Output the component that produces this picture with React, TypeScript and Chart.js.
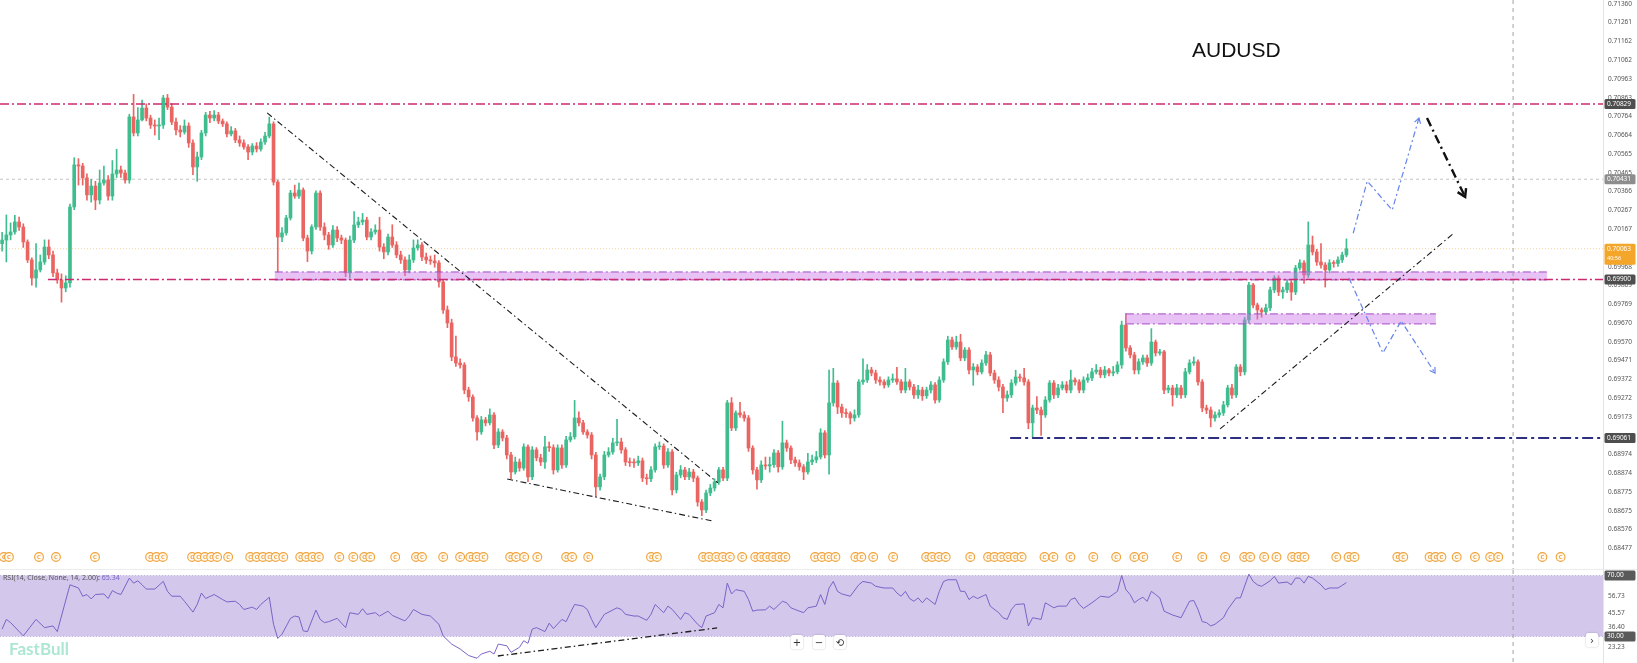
import { useEffect, useRef } from 'react';
import { Chart, registerables } from 'chart.js';

Chart.register(...registerables);

// AUDUSD candles, oldest first; each candle opens at the previous close
const FIRST_OPEN = 0.7009;
const CLOSE = [
  0.70109, 0.70136, 0.70152, 0.70205, 0.70178, 0.70099, 0.70004, 0.69908, 0.69951, 0.69993,
  0.70072, 0.7003, 0.69935, 0.69898, 0.69855, 0.69882, 0.70284, 0.70507, 0.70501, 0.70438,
  0.70348, 0.70395, 0.70321, 0.70411, 0.70427, 0.70342, 0.70459, 0.7048, 0.70464, 0.70427,
  0.70761, 0.70676, 0.70745, 0.70808, 0.70755, 0.70718, 0.70713, 0.70718, 0.70861, 0.70813,
  0.70734, 0.70692, 0.70681, 0.70713, 0.70623, 0.70496, 0.70549, 0.70676, 0.70771, 0.70755,
  0.70771, 0.70739, 0.70724, 0.70671, 0.70687, 0.70639, 0.70623, 0.70602, 0.70575, 0.70607,
  0.70591, 0.70628, 0.7066, 0.70724, 0.70416, 0.70125, 0.70147, 0.70226, 0.70358, 0.70342,
  0.70374, 0.7012, 0.70051, 0.70178, 0.70358, 0.70178, 0.70136, 0.70083, 0.70162, 0.7012,
  0.70109, 0.69935, 0.70109, 0.70189, 0.70205, 0.70215, 0.70125, 0.70152, 0.70162, 0.70072,
  0.70046, 0.70125, 0.70083, 0.7003, 0.70004, 0.69951, 0.70004, 0.70067, 0.70083, 0.70019,
  0.70004, 0.69998, 0.69988, 0.69887, 0.69739, 0.6967, 0.6949, 0.69458, 0.69448, 0.69315,
  0.69278, 0.69167, 0.69093, 0.69157, 0.69141, 0.69183, 0.69024, 0.69093, 0.69061, 0.68971,
  0.68881, 0.68934, 0.68902, 0.69014, 0.68855, 0.68998, 0.68956, 0.68934, 0.69014, 0.6901,
  0.68892, 0.69008, 0.68918, 0.69051, 0.69067, 0.69167, 0.69141, 0.69093, 0.69077, 0.68971,
  0.68802, 0.68855, 0.68971, 0.68987, 0.69035, 0.6904, 0.68998, 0.68934, 0.6893, 0.68929,
  0.6894, 0.68849, 0.68845, 0.68892, 0.69014, 0.69018, 0.68918, 0.68987, 0.68786, 0.68865,
  0.68892, 0.68855, 0.68881, 0.68849, 0.68722, 0.6868, 0.6877, 0.68796, 0.68828, 0.68892,
  0.68849, 0.69247, 0.69114, 0.69194, 0.69183, 0.69167, 0.69008, 0.68892, 0.68839, 0.68918,
  0.68913, 0.6892, 0.68982, 0.68908, 0.69035, 0.69008, 0.68945, 0.68929, 0.68908, 0.68881,
  0.68934, 0.68945, 0.68961, 0.69088, 0.68971, 0.69247, 0.69352, 0.69225, 0.69194, 0.6919,
  0.69167, 0.69183, 0.69358, 0.69368, 0.69421, 0.69405, 0.69368, 0.69358, 0.69342, 0.69368,
  0.69374, 0.69358, 0.69315, 0.69358, 0.69331, 0.69289, 0.69315, 0.69284, 0.69315, 0.69342,
  0.69262, 0.69368, 0.69464, 0.6958, 0.69543, 0.69569, 0.69485, 0.69527, 0.69421, 0.69437,
  0.69411, 0.69458, 0.69501, 0.69405, 0.69368, 0.69331, 0.69273, 0.69289, 0.69352, 0.69384,
  0.69379, 0.69358, 0.69141, 0.6922, 0.69209, 0.69183, 0.69262, 0.69352, 0.69289, 0.69326,
  0.69342, 0.69315, 0.69368, 0.69358, 0.69315, 0.69368, 0.69379, 0.69411, 0.69421, 0.69395,
  0.69421, 0.69405, 0.69411, 0.69448, 0.69659, 0.69538, 0.69501, 0.69421, 0.69464, 0.69485,
  0.69458, 0.69569, 0.69511, 0.69517, 0.69315, 0.69326, 0.69289, 0.69326, 0.69289, 0.69411,
  0.69458, 0.69464, 0.69358, 0.6922, 0.69209, 0.69167, 0.69183, 0.69194, 0.69236, 0.69326,
  0.69289, 0.69437, 0.69411, 0.69686, 0.69871, 0.69765, 0.69739, 0.69728, 0.6975, 0.69845,
  0.69908, 0.69834, 0.69845, 0.69882, 0.69834, 0.69961, 0.69988, 0.69924, 0.70083, 0.70046,
  0.69993, 0.69977, 0.69951, 0.69988, 0.69985, 0.70004, 0.7003, 0.70063,
];
const HIGH = [
  0.7015, 0.70242, 0.702, 0.7024, 0.7023, 0.70195, 0.7011, 0.70015, 0.7009, 0.7003,
  0.7011, 0.7011, 0.7005, 0.69955, 0.6993, 0.6992, 0.703, 0.70545, 0.7054, 0.70515,
  0.7046, 0.7043, 0.7042, 0.7048, 0.705, 0.7045, 0.7053, 0.7059, 0.705, 0.7048,
  0.70775, 0.7088, 0.7081, 0.7085, 0.7083, 0.7077, 0.70745, 0.70755, 0.70875, 0.7088,
  0.7083, 0.70755, 0.70715, 0.70745, 0.7073, 0.7064, 0.70575, 0.7069, 0.70785, 0.7079,
  0.70795, 0.70785, 0.7075, 0.70735, 0.7071, 0.707, 0.7066, 0.7064, 0.70615, 0.7062,
  0.70625, 0.70645, 0.7068, 0.7076, 0.70735, 0.70425, 0.70175, 0.7024, 0.70372, 0.704,
  0.7041, 0.70385, 0.70135, 0.7019, 0.7037, 0.7037, 0.702, 0.7015, 0.70185, 0.7018,
  0.70135, 0.7012, 0.7013, 0.7026, 0.7023, 0.7025, 0.7023, 0.7017, 0.7019, 0.7023,
  0.7009, 0.7014, 0.7019, 0.701, 0.7005, 0.7002, 0.7003, 0.7011, 0.7011, 0.70095,
  0.7004, 0.70025, 0.7003, 0.7, 0.699, 0.6976, 0.6969, 0.696, 0.6948, 0.6946,
  0.6933, 0.6929, 0.6918, 0.69175, 0.6917, 0.69215, 0.69195, 0.6911, 0.69105, 0.69075,
  0.68985, 0.6896, 0.6895, 0.6903, 0.69025, 0.69015, 0.6901, 0.68975, 0.6907, 0.6904,
  0.69025, 0.69025, 0.69025, 0.6907, 0.6909, 0.6926, 0.692, 0.69155, 0.69105, 0.6909,
  0.68985, 0.6887, 0.6899, 0.6901, 0.6906, 0.6916, 0.6906, 0.6901, 0.68955, 0.6895,
  0.68965, 0.68955, 0.6887, 0.6891, 0.6903, 0.6904, 0.6903, 0.69005, 0.69, 0.6888,
  0.68915, 0.68905, 0.689, 0.68895, 0.6886, 0.68735, 0.68785, 0.68815, 0.68845, 0.68905,
  0.68905, 0.6926, 0.69275, 0.69205, 0.6925, 0.692, 0.6918, 0.6902, 0.68905, 0.6894,
  0.6896, 0.6896, 0.69, 0.68995, 0.6915, 0.6905, 0.6902, 0.6896, 0.68945, 0.6892,
  0.6898, 0.6897, 0.6899, 0.6911, 0.691, 0.6942, 0.6943, 0.69365, 0.6924, 0.69215,
  0.692, 0.6921, 0.6937, 0.6948, 0.6945, 0.69435, 0.6942, 0.69385, 0.6937, 0.69385,
  0.694, 0.69435, 0.6937, 0.6943, 0.6937, 0.69345, 0.6934, 0.6933, 0.6933, 0.6936,
  0.69355, 0.69385, 0.6948, 0.696, 0.69595, 0.696, 0.6961, 0.6954, 0.6954, 0.69455,
  0.6945, 0.69475, 0.6952, 0.69515, 0.6942, 0.69385, 0.69345, 0.6931, 0.6937, 0.6942,
  0.694, 0.6943, 0.6937, 0.69235, 0.6928, 0.69225, 0.6928, 0.69365, 0.69365, 0.69345,
  0.6936, 0.6936, 0.6942, 0.6938, 0.6937, 0.69385, 0.694, 0.6943, 0.6945, 0.69435,
  0.6944, 0.6943, 0.6944, 0.69465, 0.6968, 0.6972, 0.6955, 0.69515, 0.6948, 0.695,
  0.695, 0.6964, 0.6958, 0.6953, 0.69525, 0.6934, 0.6934, 0.69345, 0.6934, 0.6943,
  0.69475, 0.6949, 0.69475, 0.6937, 0.69235, 0.69225, 0.692, 0.6921, 0.69255, 0.6934,
  0.69345, 0.6945, 0.6945, 0.697, 0.69885, 0.6988, 0.69775, 0.6975, 0.6977, 0.6986,
  0.6992, 0.6992, 0.6986, 0.69895, 0.69895, 0.69975, 0.70005, 0.7, 0.70205, 0.7013,
  0.7006, 0.7009, 0.6999, 0.70005, 0.7, 0.7002, 0.70045, 0.70115,
];
const LOW = [
  0.7005, 0.69993, 0.7011, 0.7014, 0.7016, 0.7007, 0.6999, 0.6987, 0.6986, 0.6994,
  0.6998, 0.7001, 0.69915, 0.6988, 0.6978, 0.69835, 0.6986, 0.7027, 0.704, 0.704,
  0.7032, 0.7031, 0.7027, 0.703, 0.704, 0.7032, 0.7032, 0.7044, 0.7044, 0.7041,
  0.7041, 0.7066, 0.7066, 0.7074, 0.7074, 0.707, 0.70665, 0.7064, 0.707, 0.708,
  0.7072, 0.70665, 0.70655, 0.7067, 0.706, 0.70455, 0.7042, 0.70535, 0.7066, 0.7073,
  0.7074, 0.70725, 0.7071, 0.70655, 0.7066, 0.70625, 0.70605, 0.7059, 0.70535, 0.7056,
  0.70575, 0.7058, 0.70615, 0.7065, 0.704, 0.6994, 0.701, 0.70135, 0.70215, 0.7033,
  0.7033, 0.70105, 0.69995, 0.70035, 0.70165, 0.7016, 0.7011, 0.7006, 0.7007, 0.701,
  0.7009, 0.69915, 0.6991, 0.70095, 0.70175, 0.7019, 0.7011, 0.7011, 0.7014, 0.7005,
  0.7001, 0.7003, 0.7007, 0.70015, 0.69985, 0.6992, 0.69935, 0.6999, 0.70055, 0.7,
  0.69985, 0.6998, 0.69965, 0.6986, 0.6972, 0.69645, 0.6947, 0.6944, 0.6943, 0.69295,
  0.69255, 0.6915, 0.6905, 0.6908, 0.69125, 0.6913, 0.69005, 0.6901, 0.69045, 0.6895,
  0.68845, 0.6887, 0.68885, 0.6889, 0.6883, 0.6884, 0.6894, 0.68915, 0.689, 0.6899,
  0.6887, 0.6888, 0.689, 0.68905, 0.6904, 0.69055, 0.69125, 0.6908, 0.6906, 0.6895,
  0.6875, 0.68785, 0.6884, 0.6896, 0.68975, 0.6902, 0.6898, 0.68915, 0.6891, 0.68905,
  0.68915, 0.6883, 0.68815, 0.6883, 0.6888, 0.69, 0.689, 0.68905, 0.6876, 0.6877,
  0.6885, 0.6884, 0.6884, 0.6883, 0.687, 0.6865, 0.68665, 0.68755, 0.6878, 0.68815,
  0.68835, 0.68835, 0.691, 0.691, 0.6917, 0.6915, 0.6899, 0.6887, 0.6879, 0.68825,
  0.68895, 0.6888, 0.68905, 0.6888, 0.68895, 0.6899, 0.68925, 0.6891, 0.6889, 0.6884,
  0.6887, 0.6892, 0.6893, 0.6895, 0.68955, 0.6887, 0.6923, 0.6919, 0.6917, 0.6917,
  0.69135, 0.6915, 0.6917, 0.69345, 0.69355, 0.6939, 0.6935, 0.6934, 0.69325, 0.6933,
  0.69355, 0.69345, 0.693, 0.693, 0.69315, 0.6927, 0.6927, 0.6926, 0.6927, 0.693,
  0.69245, 0.6925, 0.69355, 0.6945, 0.6953, 0.6953, 0.6947, 0.6947, 0.694, 0.6934,
  0.69395, 0.694, 0.69445, 0.6939, 0.6935, 0.6931, 0.69195, 0.69255, 0.69275, 0.6934,
  0.6936, 0.6934, 0.6911, 0.6906, 0.6919, 0.69075, 0.6917, 0.6925, 0.6927, 0.69275,
  0.69315, 0.693, 0.693, 0.6934, 0.693, 0.693, 0.69355, 0.69365, 0.694, 0.6938,
  0.6938, 0.6939, 0.6939, 0.694, 0.6943, 0.6952, 0.69485, 0.694, 0.694, 0.6945,
  0.6944, 0.69445, 0.69495, 0.695, 0.69295, 0.693, 0.6923, 0.69275, 0.6927, 0.69275,
  0.694, 0.69445, 0.6934, 0.692, 0.6919, 0.6912, 0.6915, 0.6917, 0.6918, 0.69225,
  0.6927, 0.69275, 0.6939, 0.69395, 0.6967, 0.6975, 0.6969, 0.697, 0.69715, 0.69735,
  0.6983, 0.69815, 0.698, 0.6983, 0.6979, 0.6982, 0.6995, 0.6988, 0.6991, 0.7003,
  0.69975, 0.6996, 0.6986, 0.69935, 0.69965, 0.6997, 0.6999, 0.7002,
];

// RSI(14) in the lower pane: [candle index, value]
const RSI_POINTS = [
  [0, 34.8], [1, 41.2], [2, 39.1], [5, 30.4], [8, 41.2], [10, 35.8], [12, 36.9], [13, 33.2],
  [16, 63.9], [18, 61.8], [19, 56.4], [20, 57.5], [21, 54.6], [22, 57.5], [24, 57.9], [25, 54.9],
  [26, 60.1], [27, 58.5], [28, 57.5], [30, 68.3], [31, 65.0], [32, 66.5], [33, 63.9], [34, 61.1],
  [36, 61.1], [38, 66.1], [39, 59.6], [40, 56.4], [42, 56.4], [43, 53.1], [45, 46.0], [46, 51.0],
  [47, 58.5], [48, 54.9], [50, 57.5], [52, 54.2], [53, 52.7], [55, 53.1], [56, 51.0], [57, 47.7],
  [59, 49.2], [60, 47.7], [61, 51.0], [63, 55.7], [64, 38.0], [65, 28.7], [66, 31.5], [68, 41.9],
  [69, 43.4], [70, 42.8], [71, 33.7], [72, 33.2], [74, 47.3], [75, 41.2], [76, 39.1], [77, 39.7],
  [79, 41.9], [81, 35.8], [82, 45.6], [84, 44.5], [85, 48.2], [86, 44.5], [88, 45.6], [89, 43.4],
  [91, 46.6], [92, 43.8], [95, 40.2], [96, 43.4], [97, 47.7], [99, 44.5], [101, 43.4], [103, 38.0],
  [104, 30.4], [106, 25.0], [108, 21.8], [110, 17.5], [112, 15.7], [113, 18.5], [115, 20.3], [116, 18.5],
  [117, 25.0], [119, 23.9], [120, 19.6], [122, 22.9], [123, 27.2], [124, 25.5], [125, 34.8], [126, 35.8],
  [128, 33.2], [129, 38.7], [130, 35.2], [132, 41.2], [133, 39.7], [134, 45.6], [135, 51.0], [137, 49.9],
  [138, 47.7], [139, 41.2], [140, 35.8], [142, 44.5], [145, 48.8], [146, 47.7], [147, 44.5], [149, 43.4],
  [150, 43.4], [152, 40.6], [153, 44.5], [154, 51.0], [156, 45.6], [157, 49.9], [158, 47.8], [160, 41.2],
  [161, 45.6], [162, 44.5], [164, 38.0], [165, 35.8], [166, 43.4], [168, 45.6], [169, 51.0], [170, 48.8],
  [171, 65.0], [172, 57.9], [173, 60.7], [175, 59.6], [176, 54.2], [177, 46.6], [178, 47.3], [180, 47.5],
  [181, 49.9], [182, 47.7], [184, 53.1], [185, 52.1], [186, 48.8], [187, 47.7], [189, 45.6], [190, 48.8],
  [192, 49.9], [193, 57.5], [194, 51.0], [195, 61.8], [196, 66.1], [197, 59.6], [198, 57.9], [200, 56.4],
  [202, 63.9], [203, 66.1], [205, 65.0], [206, 62.9], [208, 61.8], [210, 61.8], [211, 58.5], [212, 56.4],
  [213, 59.6], [214, 54.9], [215, 53.1], [216, 55.3], [217, 52.1], [218, 55.3], [220, 51.0], [221, 59.6],
  [222, 66.1], [223, 67.2], [225, 67.2], [226, 59.6], [227, 59.6], [228, 54.2], [229, 56.4], [230, 54.9],
  [232, 57.5], [233, 49.9], [235, 45.6], [236, 42.3], [237, 41.2], [238, 47.7], [239, 51.0], [241, 51.4],
  [242, 36.9], [243, 42.3], [245, 41.2], [246, 52.1], [248, 48.8], [249, 49.9], [251, 49.9], [252, 54.2],
  [253, 55.3], [254, 51.0], [255, 48.4], [257, 52.1], [258, 54.2], [259, 56.4], [261, 55.7], [263, 59.6],
  [264, 70.0], [265, 60.7], [266, 57.5], [267, 52.1], [268, 54.2], [269, 55.7], [270, 53.1], [271, 59.6],
  [272, 57.5], [273, 55.3], [274, 46.6], [276, 44.1], [278, 42.3], [279, 47.7], [280, 53.1], [281, 53.6],
  [282, 47.7], [283, 39.7], [284, 39.1], [285, 36.9], [286, 38.0], [288, 42.3], [289, 47.7], [291, 55.3],
  [292, 55.3], [294, 70.9], [295, 66.1], [296, 63.9], [297, 62.9], [299, 66.5], [300, 69.4], [301, 65.0],
  [303, 65.7], [304, 63.9], [305, 68.3], [306, 68.3], [307, 65.0], [308, 69.4], [309, 68.3], [311, 63.9],
  [312, 60.7], [313, 61.8], [314, 61.8], [315, 61.8], [316, 63.5], [317, 65.34],
];

const PRICE_TICKS = [
  0.7136, 0.71261, 0.71162, 0.71062, 0.70963, 0.70863, 0.70764, 0.70664, 0.70565, 0.70465,
  0.70366, 0.70267, 0.70167, 0.70068, 0.69968, 0.69869, 0.69769, 0.6967, 0.6957, 0.69471,
  0.69372, 0.69272, 0.69173, 0.69073, 0.68974, 0.68874, 0.68775, 0.68675, 0.68576, 0.68477,
];
const RSI_TICKS = [56.73, 45.57, 36.4, 23.23];

// horizontal levels and drawings (candle index, price)
const RESISTANCE = 0.70829;
const SUPPORT = 0.699;
const SWING_LOW = 0.69061;
const PREV_CLOSE = 0.70431;
const LAST_PRICE = 0.70063;
const SUPPORT_FROM = 10.8;
const SWING_LOW_FROM = 237.7;
const ZONES = [
  [64.3, 364.3, 0.69898, 0.6994],
  [265.0, 338.1, 0.69665, 0.69718],
];
const DOWN_TREND = [[62.5, 0.70782], [168.8, 0.68823]];
const WEDGE_BASE = [[119.1, 0.68844], [167.4, 0.68622]];
const UP_TREND = [[287.2, 0.69109], [342.1, 0.70141]];
const RSI_TREND = [[116.9, 17.2], [168.6, 35.6]];
const PATH_UP = [[318.6, 0.70145], [321.9, 0.70421], [327.8, 0.70268], [334.1, 0.70755]];
const PATH_DOWN = [[317.6, 0.69908], [325.6, 0.69511], [329.9, 0.69681], [337.9, 0.69405]];
const BIAS_ARROW = [[336.0, 0.70755], [345.0, 0.70337]];
const NOW_AT = 356.3;

// economic calendar markers (candle index)
const EVENTS = [
  0.4, 1.6, 8.7, 12.7, 21.9, 34.9, 36.4, 37.9, 44.8, 46.2, 47.8, 49.3, 50.7, 53.3, 58.5, 60,
  61.5, 63, 64.5, 66.3, 70.3, 71.7, 73.2, 74.7, 79.5, 82.8, 85.4, 86.8, 92.7, 97.6, 99, 104,
  108, 110.4, 111.9, 113.5, 119.8, 121.2, 123.1, 126.2, 133, 134.4, 138.2, 153, 154.4, 165.3,
  166.7, 168.4, 170, 171.6, 174.5, 177.6, 179, 180.4, 181.8, 183.3, 184.7, 191.7, 193.3, 194.9,
  196.5, 201.2, 202.6, 205.4, 210.1, 217.9, 219.3, 220.9, 222.5, 228.3, 232.5, 234, 235.6,
  237.2, 238.8, 240.4, 245.8, 247.9, 251.9, 257.3, 262.7, 267, 269.1, 277.1, 283, 288.4,
  292.9, 294.3, 297.6, 300.5, 304.2, 305.7, 307.1, 314.6, 317.5, 318.9, 329, 330.4, 336.6,
  338, 339.4, 343, 347.3, 350.9, 352.8, 363.2, 367.5,
];

const UP = '#3fbd8e';
const DOWN = '#ea6461';
const AXIS_FONT = { size: 6.5, family: '"Noto Sans", sans-serif' };

function polyline(ctx, pts, color, width, dash) {
  ctx.save();
  ctx.strokeStyle = color;
  ctx.lineWidth = width;
  ctx.setLineDash(dash);
  ctx.beginPath();
  pts.forEach(([x, y], i) => (i ? ctx.lineTo(x, y) : ctx.moveTo(x, y)));
  ctx.stroke();
  ctx.restore();
}

function arrowHead(ctx, from, to, len, color, width) {
  const ang = Math.atan2(to[1] - from[1], to[0] - from[0]);
  ctx.save();
  ctx.strokeStyle = color;
  ctx.lineWidth = width;
  ctx.setLineDash([]);
  ctx.beginPath();
  ctx.moveTo(to[0] - len * Math.cos(ang - 0.55), to[1] - len * Math.sin(ang - 0.55));
  ctx.lineTo(to[0], to[1]);
  ctx.lineTo(to[0] - len * Math.cos(ang + 0.55), to[1] - len * Math.sin(ang + 0.55));
  ctx.stroke();
  ctx.restore();
}

function tag(ctx, scale, y, text, bg, sub?) {
  const h = sub ? 21 : 10;
  ctx.save();
  ctx.fillStyle = bg;
  ctx.beginPath();
  ctx.roundRect(scale.left + 1.5, y - 5, scale.right - scale.left - 3, h, 1.5);
  ctx.fill();
  ctx.fillStyle = '#fff';
  ctx.font = '6.5px "Noto Sans", sans-serif';
  ctx.textBaseline = 'middle';
  ctx.fillText(text, scale.left + 4, y);
  if (sub) {
    ctx.font = '5.5px "Noto Sans", sans-serif';
    ctx.fillText(sub, scale.left + 4, y + 10);
  }
  ctx.restore();
}

const mainOverlay = {
  id: 'mainOverlay',
  beforeDatasetsDraw(chart) {
    const { ctx, chartArea: a, scales } = chart;
    const y = scales.y;
    polyline(ctx, [[a.left, y.getPixelForValue(PREV_CLOSE)], [a.right, y.getPixelForValue(PREV_CLOSE)]], '#c4c4c4', 1, [3, 3]);
    polyline(ctx, [[a.left, y.getPixelForValue(LAST_PRICE)], [a.right, y.getPixelForValue(LAST_PRICE)]], 'rgba(240,175,90,0.55)', 1, [1, 2]);
  },
  afterDatasetsDraw(chart) {
    const { ctx, chartArea: a, scales } = chart;
    const P = ([i, p]) => [scales.x.getPixelForValue(i), scales.y.getPixelForValue(p)];
    ctx.save();
    ctx.beginPath();
    ctx.rect(a.left, a.top, a.right - a.left, a.bottom - a.top);
    ctx.clip();

    ZONES.forEach(([i0, i1, lo, hi]) => {
      const [x0, yTop] = P([i0, hi]);
      const [x1, yBot] = P([i1, lo]);
      ctx.fillStyle = 'rgba(204,120,232,0.45)';
      ctx.fillRect(x0, yTop, x1 - x0, yBot - yTop);
      polyline(ctx, [[x0, yTop], [x1, yTop]], '#a24bc8', 1, [8, 3, 2, 3]);
      polyline(ctx, [[x0, yBot], [x1, yBot]], '#a24bc8', 1, [8, 3, 2, 3]);
    });

    const yr = scales.y.getPixelForValue(RESISTANCE);
    polyline(ctx, [[a.left, yr], [a.right, yr]], '#cc2a70', 1.6, [9, 3, 2, 3]);
    const ys = scales.y.getPixelForValue(SUPPORT);
    polyline(ctx, [[scales.x.getPixelForValue(SUPPORT_FROM), ys], [a.right, ys]], '#cc2a70', 1.6, [9, 3, 2, 3]);
    const yl = scales.y.getPixelForValue(SWING_LOW);
    polyline(ctx, [[scales.x.getPixelForValue(SWING_LOW_FROM), yl], [a.right, yl]], '#2d2f80', 2, [11, 4, 3, 4]);

    [DOWN_TREND, WEDGE_BASE, UP_TREND].forEach((l) =>
      polyline(ctx, l.map(P), '#1c1c1c', 1.1, [6, 3, 1.5, 3]),
    );

    [PATH_UP, PATH_DOWN].forEach((path) => {
      const pts = path.map(P);
      polyline(ctx, pts, '#6584ea', 1.2, [6, 3, 2, 3]);
      arrowHead(ctx, pts[pts.length - 2], pts[pts.length - 1], 6, '#6584ea', 1.2);
    });

    const arrow = BIAS_ARROW.map(P);
    polyline(ctx, arrow, '#111', 2.4, [9, 4, 2, 4]);
    arrowHead(ctx, arrow[0], arrow[1], 9, '#111', 2.4);

    const xn = scales.x.getPixelForValue(NOW_AT);
    polyline(ctx, [[xn, a.top], [xn, a.bottom]], '#a0a0a0', 1, [4, 4]);

    const ey = a.bottom - 13;
    EVENTS.forEach((i) => {
      const ex = scales.x.getPixelForValue(i);
      ctx.beginPath();
      ctx.arc(ex, ey, 4.4, 0, Math.PI * 2);
      ctx.fillStyle = '#fff8ec';
      ctx.fill();
      ctx.lineWidth = 1.1;
      ctx.strokeStyle = '#f0a23a';
      ctx.stroke();
      ctx.fillStyle = '#e99630';
      ctx.font = '600 6px "Noto Sans", sans-serif';
      ctx.textAlign = 'center';
      ctx.textBaseline = 'middle';
      ctx.fillText('C', ex, ey + 0.3);
    });
    ctx.restore();

    ctx.save();
    ctx.strokeStyle = '#ececec';
    ctx.lineWidth = 1;
    ctx.beginPath();
    ctx.moveTo(0, a.bottom - 0.5);
    ctx.lineTo(chart.width, a.bottom - 0.5);
    ctx.stroke();
    ctx.restore();
  },
  afterDraw(chart) {
    const { ctx, scales } = chart;
    const y = scales.y;
    tag(ctx, y, y.getPixelForValue(RESISTANCE), RESISTANCE.toFixed(5), '#4e4e4e');
    tag(ctx, y, y.getPixelForValue(PREV_CLOSE), PREV_CLOSE.toFixed(5), '#8d8d8d');
    tag(ctx, y, y.getPixelForValue(LAST_PRICE), LAST_PRICE.toFixed(5), '#f4a62a', '40:56');
    tag(ctx, y, y.getPixelForValue(SUPPORT), SUPPORT.toFixed(5), '#4e4e4e');
    tag(ctx, y, y.getPixelForValue(SWING_LOW), SWING_LOW.toFixed(5), '#4e4e4e');
  },
};

const rsiOverlay = {
  id: 'rsiOverlay',
  beforeDatasetsDraw(chart) {
    const { ctx, chartArea: a, scales } = chart;
    const y70 = scales.y.getPixelForValue(70);
    const y30 = scales.y.getPixelForValue(30);
    ctx.save();
    ctx.fillStyle = '#d3c7ec';
    ctx.fillRect(a.left, y70, a.right - a.left, y30 - y70);
    ctx.restore();
    polyline(ctx, [[a.left, y70], [a.right, y70]], 'rgba(120,100,170,0.35)', 1, [1, 2]);
    polyline(ctx, [[a.left, y30], [a.right, y30]], 'rgba(120,100,170,0.35)', 1, [1, 2]);
  },
  afterDatasetsDraw(chart) {
    const { ctx, scales } = chart;
    const P = ([i, v]) => [scales.x.getPixelForValue(i), scales.y.getPixelForValue(v)];
    polyline(ctx, RSI_TREND.map(P), '#1c1c1c', 1.3, [6, 3, 1.5, 3]);
    const xn = scales.x.getPixelForValue(NOW_AT);
    polyline(ctx, [[xn, 0], [xn, chart.height]], '#a0a0a0', 1, [4, 4]);
  },
  afterDraw(chart) {
    const { ctx, scales } = chart;
    tag(ctx, scales.y, scales.y.getPixelForValue(70), '70.00', '#5a5a5a');
    tag(ctx, scales.y, scales.y.getPixelForValue(30), '30.00', '#5a5a5a');
  },
};

const xScale = { type: 'linear', min: -0.5, max: 377.5, display: false, offset: false };

function rightAxis(min, max, ticks, digits) {
  return {
    position: 'right',
    min,
    max,
    grid: { display: false, drawTicks: false },
    border: { display: true, color: '#e4e4e4' },
    ticks: {
      autoSkip: false,
      padding: 5,
      color: '#555',
      font: AXIS_FONT,
      callback: (v) => Number(v).toFixed(digits),
    },
    afterBuildTicks: (s) => {
      s.ticks = ticks.map((value) => ({ value }));
    },
    afterFit: (s) => {
      s.width = 34;
      s.paddingTop = 0;
      s.paddingBottom = 0;
    },
  };
}

function PriceChart() {
  const canvas = useRef<HTMLCanvasElement | null>(null);

  useEffect(() => {
    if (!canvas.current) return;
    const opens = CLOSE.map((c, i) => (i === 0 ? FIRST_OPEN : CLOSE[i - 1]));
    const colors = CLOSE.map((c, i) => (c >= opens[i] ? UP : DOWN));

    const chart = new Chart(canvas.current, {
      type: 'bar',
      data: {
        datasets: [
          {
            label: 'body',
            data: CLOSE.map((c, i) => ({ x: i, y: [opens[i], c] })),
            backgroundColor: colors,
            barThickness: 3,
            minBarLength: 1,
            grouped: false,
            order: 0,
          },
          {
            label: 'wick',
            data: CLOSE.map((c, i) => ({ x: i, y: [LOW[i], HIGH[i]] })),
            backgroundColor: colors,
            barThickness: 1,
            grouped: false,
            order: 1,
          },
        ],
      },
      options: {
        animation: false,
        responsive: false,
        events: [],
        layout: { padding: 0 },
        plugins: { legend: { display: false }, tooltip: { enabled: false } },
        scales: {
          x: xScale,
          y: rightAxis(0.68362, 0.7138, PRICE_TICKS, 5),
        },
      },
      plugins: [mainOverlay],
    });

    return () => chart.destroy();
  }, [canvas]);

  return <canvas ref={canvas} width={1637} height={570} style={{ display: 'block' }}></canvas>;
}

function RsiChart() {
  const canvas = useRef<HTMLCanvasElement | null>(null);

  useEffect(() => {
    if (!canvas.current) return;
    const chart = new Chart(canvas.current, {
      type: 'line',
      data: {
        datasets: [
          {
            label: 'RSI',
            data: RSI_POINTS.map(([x, y]) => ({ x, y })),
            borderColor: '#7d62c6',
            borderWidth: 1,
            pointRadius: 0,
            tension: 0,
          },
        ],
      },
      options: {
        animation: false,
        responsive: false,
        events: [],
        layout: { padding: 0 },
        plugins: { legend: { display: false }, tooltip: { enabled: false } },
        scales: {
          x: xScale,
          y: rightAxis(12.6, 73.6, RSI_TICKS, 2),
        },
      },
      plugins: [rsiOverlay],
    });

    return () => chart.destroy();
  }, [canvas]);

  return <canvas ref={canvas} width={1637} height={93} style={{ display: 'block' }}></canvas>;
}

const btn = {
  position: 'absolute',
  top: 635,
  width: 12,
  height: 14,
  background: '#fff',
  borderRadius: 2,
  boxShadow: '0 0 2px rgba(0,0,0,0.25)',
  font: '10px "DejaVu Sans", sans-serif',
  color: '#333',
  display: 'flex',
  alignItems: 'center',
  justifyContent: 'center',
} as const;

export default function App() {
  useEffect(() => {
    document.body.style.margin = '0';
  }, []);

  return (
    <div style={{ position: 'relative', width: 1637, height: 663, overflow: 'hidden', background: '#fff' }}>
      <PriceChart />
      <RsiChart />
      <div
        style={{
          position: 'absolute',
          left: 1192,
          top: 39,
          font: '21px "Liberation Sans", Arial, sans-serif',
          lineHeight: '21px',
          color: '#111',
        }}
      >
        AUDUSD
      </div>
      <div
        style={{
          position: 'absolute',
          left: 3,
          top: 573,
          font: '7px "Noto Sans", sans-serif',
          color: '#555',
          whiteSpace: 'nowrap',
        }}
      >
        RSI(14, Close, None, 14, 2.00): <span style={{ color: '#7d62c6' }}>65.34</span>
      </div>
      <div
        style={{
          position: 'absolute',
          left: 9,
          top: 640,
          font: 'bold 17px Lato, sans-serif',
          lineHeight: '17px',
          color: '#ade6d3',
        }}
      >
        FastBull
      </div>
      <div style={{ ...btn, left: 791 }}>+</div>
      <div style={{ ...btn, left: 813 }}>−</div>
      <div style={{ ...btn, left: 834 }}>⟲</div>
      <div style={{ ...btn, left: 1586, top: 633 }}>›</div>
    </div>
  );
}
